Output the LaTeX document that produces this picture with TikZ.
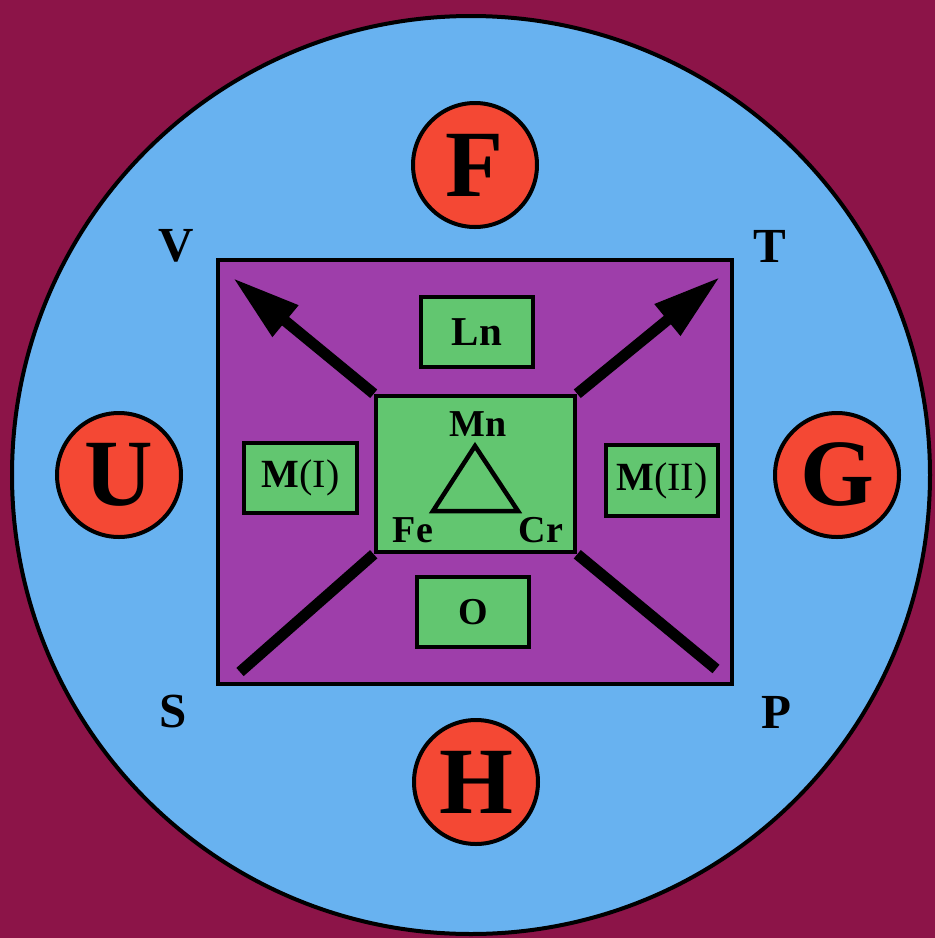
\documentclass[tikz,border=0pt]{standalone}
\usepackage{fontspec}
\setmainfont{Liberation Serif}
\usetikzlibrary{arrows.meta}
\definecolor{bgc}{RGB}{140,20,72}
\definecolor{bluec}{RGB}{104,178,240}
\definecolor{purplec}{RGB}{158,62,170}
\definecolor{greenc}{RGB}{98,198,112}
\definecolor{redc}{RGB}{244,72,52}
\pgfdeclarelayer{back}
\pgfdeclarelayer{mid}
\pgfsetlayers{back,mid,main}
\begin{document}
\begin{tikzpicture}[x=1pt,y=-1pt,
  ring/.style={circle, draw, line width=4pt, fill=redc, minimum size=124pt, inner sep=0pt,
    font=\fontsize{95}{95}\selectfont\bfseries},
  box/.style={rectangle, draw, line width=4.5pt, fill=greenc, inner sep=0pt},
  cornerlab/.style={inner sep=0pt, font=\fontsize{49}{49}\selectfont\bfseries},
  lab/.style={inner sep=0pt, font=\fontsize{38}{38}\selectfont\bfseries},
  shaft/.style={line width=11pt},
  headed/.style={shaft, -{Triangle[length=68pt,width=38pt]}},
]
\useasboundingbox (0,0) rectangle (935,938);
\begin{pgfonlayer}{back}
  \fill[bgc] (0,0) rectangle (935,938);
  \node[circle, draw, line width=4pt, fill=bluec, minimum size=918pt, inner sep=0pt] (disk) at (471,475) {};
  \node[rectangle, draw, line width=4.5pt, fill=purplec, minimum width=514pt, minimum height=424pt, inner sep=0pt] (frame) at (475,472) {};
\end{pgfonlayer}

% outer letters
\node[ring] (F) at (475,165) {F};
\node[ring] (U) at (119,475) {U};
\node[ring] (G) at (837,475) {G};
\node[ring] (H) at (476,782) {H};

\node[cornerlab] (V) at (176,246) {V};
\node[cornerlab] (T) at (770,246) {T};
\node[cornerlab] (S) at (173,712) {S};
\node[cornerlab] (P) at (776,712) {P};

% central box
\node[box, minimum width=199pt, minimum height=156pt] (core) at (475.5,474) {};
\node[lab] (Mn) at (478,424) {Mn};
\node[lab] (Fe) at (413,530) {Fe};
\node[lab] (Cr) at (541,530) {Cr};
\coordinate (ta) at (475,446);
\coordinate (tb) at (433,511);
\coordinate (tc) at (518,511);
\draw[line width=4.5pt, line join=miter] (ta) -- (tb) -- (tc) -- cycle;

% side boxes
\node[box, minimum width=112pt, minimum height=70pt, font=\fontsize{41}{41}\selectfont\bfseries] (Ln) at (477,332) {Ln};
\node[box, minimum width=112pt, minimum height=70pt, font=\fontsize{38}{38}\selectfont\bfseries] (O) at (473,612) {O};
\node[box, minimum width=113pt, minimum height=70pt, font=\fontsize{40}{40}\selectfont] (MI) at (300.5,478) {\textbf{M}(I)};
\node[box, minimum width=112pt, minimum height=71pt, font=\fontsize{40}{40}\selectfont] (MII) at (662,480.5) {\textbf{M}(II)};

% arrows
\coordinate (tipV) at (233,278);
\coordinate (tipT) at (720,277);
\coordinate (endS) at (240,672);
\coordinate (endP) at (716,669);
\begin{pgfonlayer}{mid}
  \draw[headed] (core.north west) -- (tipV);
  \draw[headed] (core.north east) -- (tipT);
  \draw[shaft] (core.south west) -- (endS);
  \draw[shaft] (core.south east) -- (endP);
\end{pgfonlayer}
\end{tikzpicture}
\end{document}
